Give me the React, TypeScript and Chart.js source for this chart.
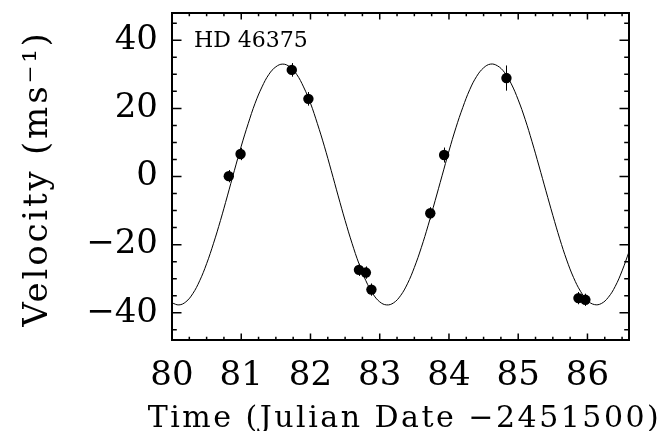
import React, { useEffect, useRef } from "react";
import { Chart, registerables } from "chart.js";

Chart.register(...registerables);

// Model curve, time in days (JD - 2451500)
const curveTime = [
  80.0, 80.1, 80.2, 80.3, 80.4, 80.5, 80.6, 80.7, 80.8, 80.9,
  81.0, 81.1, 81.2, 81.3, 81.4, 81.5, 81.6, 81.7, 81.8, 81.9,
  82.0, 82.1, 82.2, 82.3, 82.4, 82.5, 82.6, 82.7, 82.8, 82.9,
  83.0, 83.1, 83.2, 83.3, 83.4, 83.5, 83.6, 83.7, 83.8, 83.9,
  84.0, 84.1, 84.2, 84.3, 84.4, 84.5, 84.6, 84.7, 84.8, 84.9,
  85.0, 85.1, 85.2, 85.3, 85.4, 85.5, 85.6, 85.7, 85.8, 85.9,
  86.0, 86.1, 86.2, 86.3, 86.4, 86.5, 86.6,
];
const curveVelocity = [
  -37.1, -37.7, -36.8, -34.4, -30.6, -25.6, -19.6, -12.9, -5.7, 1.7,
  8.9, 15.5, 21.5, 26.3, 30.0, 32.2, 33.0, 32.2, 30.0, 26.3,
  21.5, 15.5, 8.9, 1.7, -5.7, -12.9, -19.6, -25.6, -30.6, -34.4,
  -36.8, -37.7, -37.1, -35.0, -31.5, -26.7, -20.9, -14.3, -7.1, 0.2,
  7.5, 14.3, 20.3, 25.5, 29.4, 31.9, 33.0, 32.5, 30.6, 27.2,
  22.5, 16.8, 10.2, 3.1, -4.2, -11.4, -18.3, -24.5, -29.7, -33.7,
  -36.4, -37.6, -37.3, -35.5, -32.3, -27.7, -22.1,
];

// Observations
const obsTime = [80.82, 80.99, 81.73, 81.97, 82.70, 82.80, 82.88, 83.73, 83.93, 84.83, 85.87, 85.97];
const obsVelocity = [0.1, 6.6, 31.3, 22.8, -27.4, -28.2, -33.2, -10.8, 6.3, 28.9, -35.7, -36.2];
const obsError = [1.8, 1.8, 2.0, 2.0, 1.8, 1.8, 1.8, 1.8, 2.2, 3.7, 1.8, 1.8];

const xTicks = [80, 81, 82, 83, 84, 85, 86];
const yTicks = [-40, -20, 0, 20, 40];

const xTitle = "Time (Julian Date \u22122451500)";
const yTitle = "Velocity (ms\u207B\u00B9)";
const starLabel = "HD 46375";

const FONT = "'DejaVu Serif', serif";

const framePlugin = {
  id: "idlFrame",
  afterDatasetsDraw(chart: any) {
    const { ctx, chartArea: a, scales } = chart;
    const xs = scales.x;
    const ys = scales.y;
    ctx.save();
    // error bars
    ctx.strokeStyle = "#000";
    ctx.lineWidth = 1;
    for (let i = 0; i < obsTime.length; i++) {
      const px = Math.round(xs.getPixelForValue(obsTime[i])) + 0.5;
      ctx.beginPath();
      ctx.moveTo(px, ys.getPixelForValue(obsVelocity[i] + obsError[i]));
      ctx.lineTo(px, ys.getPixelForValue(obsVelocity[i] - obsError[i]));
      ctx.stroke();
    }
    // frame
    ctx.lineWidth = 2;
    ctx.strokeRect(a.left, a.top, a.right - a.left, a.bottom - a.top);
    // x ticks (inward, top and bottom)
    ctx.lineWidth = 1.5;
    for (let v = 80; v <= 86.6 + 1e-9; v += 0.25) {
      const major = Math.abs(v - Math.round(v)) < 1e-6;
      const len = major ? 6.5 : 3.2;
      const px = xs.getPixelForValue(v);
      ctx.beginPath();
      ctx.moveTo(px, a.bottom);
      ctx.lineTo(px, a.bottom - len);
      ctx.moveTo(px, a.top);
      ctx.lineTo(px, a.top + len);
      ctx.stroke();
    }
    // y ticks (inward, left and right)
    for (let v = -45; v <= 45; v += 5) {
      const major = v % 20 === 0;
      const len = major ? 9.5 : 4.8;
      const py = ys.getPixelForValue(v);
      ctx.beginPath();
      ctx.moveTo(a.left, py);
      ctx.lineTo(a.left + len, py);
      ctx.moveTo(a.right, py);
      ctx.lineTo(a.right - len, py);
      ctx.stroke();
    }
    ctx.fillStyle = "#000";
    // star label
    ctx.font = `22px ${FONT}`;
    ctx.textAlign = "left";
    ctx.textBaseline = "alphabetic";
    ctx.fillText(starLabel, a.left + 22, a.top + 34);
    // x title
    ctx.font = `30px ${FONT}`;
    ctx.textAlign = "center";
    (ctx as any).letterSpacing = "2.5px";
    ctx.fillText(xTitle, (a.left + a.right) / 2 + 4, 427);
    // y title
    ctx.save();
    ctx.font = `34px ${FONT}`;
    (ctx as any).letterSpacing = "2.8px";
    ctx.translate(47, 178.5);
    ctx.rotate(-Math.PI / 2);
    ctx.fillText(yTitle, 0, 0);
    ctx.restore();
    ctx.restore();
  },
};

export default function App() {
  const canvasRef = useRef<HTMLCanvasElement | null>(null);

  useEffect(() => {
    document.body.style.margin = "0";
    const canvas = canvasRef.current;
    if (!canvas) return;
    const chart = new Chart(canvas, {
      type: "scatter",
      data: {
        datasets: [
          {
            label: "model",
            data: curveTime.map((t, i) => ({ x: t, y: curveVelocity[i] })),
            showLine: true,
            borderColor: "#000",
            borderWidth: 1,
            pointRadius: 0,
            tension: 0.4,
            order: 2,
          },
          {
            label: "observed",
            data: obsTime.map((t, i) => ({ x: t, y: obsVelocity[i] })),
            showLine: false,
            pointRadius: 5.2,
            pointBackgroundColor: "#000",
            pointBorderColor: "#000",
            pointBorderWidth: 0,
            order: 1,
          },
        ],
      },
      options: {
        responsive: false,
        animation: false,
        layout: { padding: { left: 0, right: 36, top: 13, bottom: 0 } },
        plugins: {
          legend: { display: false },
          tooltip: { enabled: false },
        },
        scales: {
          x: {
            type: "linear",
            min: 80,
            max: 86.6,
            afterBuildTicks: (s: any) => {
              s.ticks = xTicks.map((v) => ({ value: v }));
            },
            afterFit: (s: any) => {
              s.height = 91;
              s.paddingLeft = 0;
              s.paddingRight = 0;
            },
            grid: { display: false, drawTicks: false },
            border: { display: false },
            ticks: {
              padding: 19,
              color: "#000",
              maxRotation: 0,
              autoSkip: false,
              font: { family: FONT, size: 34, lineHeight: 1 },
              callback: (v: any) => String(v),
            },
            title: { display: false },
          },
          y: {
            type: "linear",
            min: -48,
            max: 48,
            afterBuildTicks: (s: any) => {
              s.ticks = yTicks.map((v) => ({ value: v }));
            },
            afterFit: (s: any) => {
              s.width = 172;
              s.paddingTop = 0;
              s.paddingBottom = 0;
            },
            grid: { display: false, drawTicks: false },
            border: { display: false },
            ticks: {
              padding: 14,
              color: "#000",
              autoSkip: false,
              font: { family: FONT, size: 34, lineHeight: 1 },
              callback: (v: any) => (v < 0 ? "\u2212" + Math.abs(v) : String(v)),
            },
            title: { display: false },
          },
        },
      },
      plugins: [framePlugin],
    });
    return () => chart.destroy();
  }, []);

  return (
    <div style={{ width: 665, height: 431, background: "#fff" }}>
      <canvas ref={canvasRef} width={665} height={431} style={{ display: "block" }} />
    </div>
  );
}
